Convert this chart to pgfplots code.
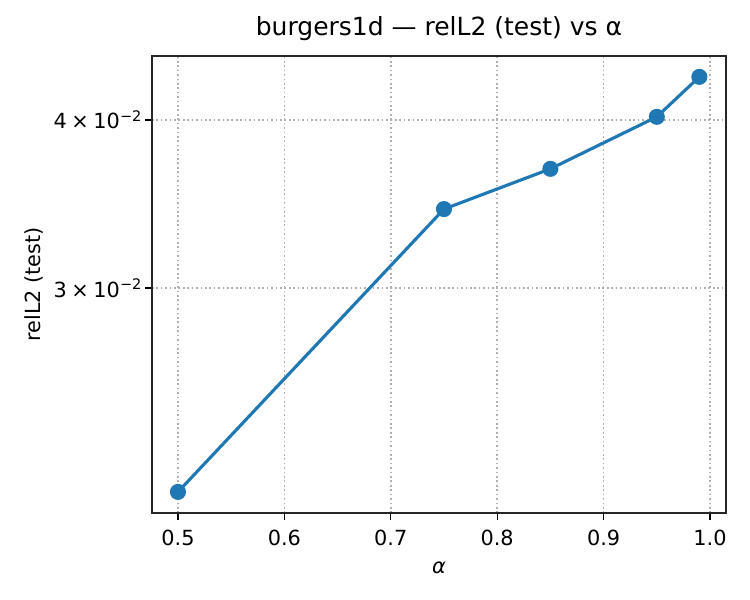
\documentclass[border=0pt]{standalone}
\usepackage{fontspec}
\setmainfont{DejaVu Sans}
\usepackage{pgfplots}
\pgfplotsset{compat=1.18}
\definecolor{mplblue}{HTML}{1F77B4}
\definecolor{mplgrid}{HTML}{B0B0B0}
\begin{document}
\begin{tikzpicture}
\begin{axis}[
  scale only axis,
  width=275.5pt, height=219.4pt,
  ymode=log,
  xmin=0.4756, xmax=1.015,
  ymin=0.02041, ymax=0.04463,
  xtick={0.5,0.6,0.7,0.8,0.9,1.0},
  xticklabels={0.5,0.6,0.7,0.8,0.9,1.0},
  ytick={0.03,0.04},
  yticklabels={{3\hspace{2.2pt}×\hspace{2.2pt}10\textsuperscript{−2}},{4\hspace{2.2pt}×\hspace{2.2pt}10\textsuperscript{−2}}},
  minor ytick={},
  xtick pos=bottom, ytick pos=left,
  /pgf/number format/assume math mode=true,
  tick align=outside,
  major tick length=3.5pt,
  tick style={black, line width=0.6pt},
  axis line style={line width=0.8pt, black!85},
  grid=major,
  grid style={mplgrid, line width=0.8pt, dash pattern=on 0.8pt off 1.32pt},
  ticklabel style={font=\fontsize{10}{12}\selectfont},
  xticklabel style={yshift=-1pt},
  yticklabel style={xshift=2.5pt},
  title={burgers1d — relL2 (test) vs α},
  title style={font=\fontsize{12}{14}\selectfont, yshift=-2pt},
  xlabel={\textit{α}},
  ylabel={relL2 (test)},
  label style={font=\fontsize{10}{12}\selectfont},
  xlabel style={yshift=-1pt},
  ylabel style={yshift=-2pt},
]
\addplot[mplblue, line width=1.5pt, mark=*, mark size=3.1pt, mark options={fill=mplblue, draw=mplblue}]
  coordinates {(0.5,0.02116) (0.75,0.03434) (0.85,0.03679) (0.95,0.04021) (0.99,0.04306)};
\end{axis}
\path ([shift={(-72.96pt,-41.76pt)}]current axis.south west) rectangle ([shift={(287.04pt,246.24pt)}]current axis.south west);
\end{tikzpicture}
\end{document}
